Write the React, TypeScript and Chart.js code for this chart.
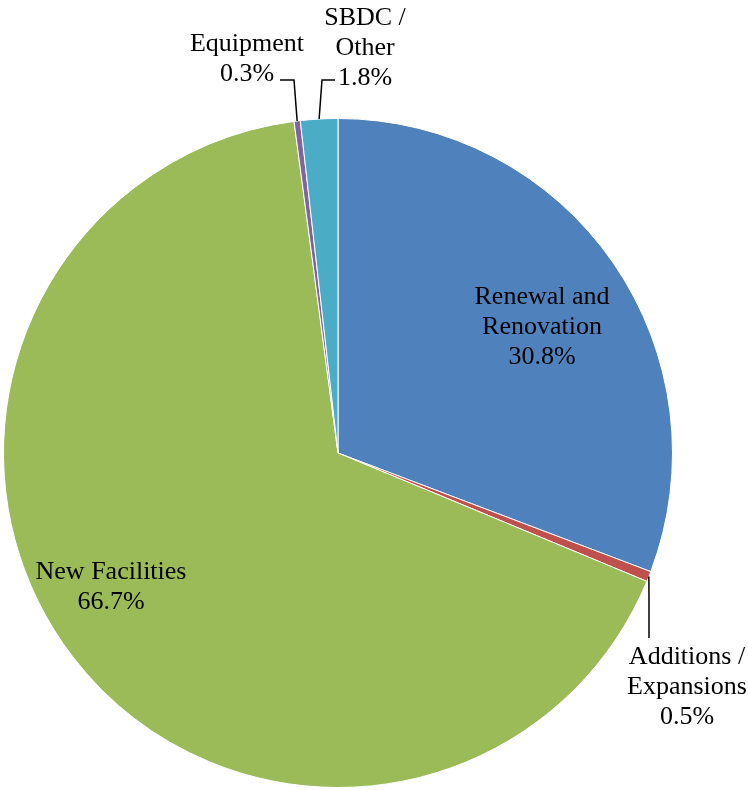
import React, { useEffect, useRef } from "react";
import { Chart, registerables } from "chart.js";

Chart.register(...registerables);

const categories = ["Renewal and Renovation", "Additions / Expansions", "New Facilities", "Equipment", "SBDC / Other"];
const values = [30.8, 0.5, 66.7, 0.3, 1.8];
const labelLines = [
  ["Renewal and", "Renovation", "30.8%"],
  ["Additions /", "Expansions", "0.5%"],
  ["New Facilities", "66.7%"],
  ["Equipment", "0.3%"],
  ["SBDC /", "Other", "1.8%"],
];
const colors = ["#4F81BD", "#C0504D", "#9BBB59", "#8064A2", "#4BACC6"];

const FONT = "26px 'Liberation Serif', 'Times New Roman', Times, serif";
const LINE_H = 30;

const labelLayout = [
  { x: 542, y: 297, leader: null as null | number[][] },
  { x: 687, y: 657, leader: [[649, 638], [649, 600]] },
  { x: 111, y: 572, leader: null },
  { x: 247, y: 44, leader: [[280, 80], [294, 80]] },
  { x: 365, y: 18, leader: [[335, 80], [322, 80]] },
];

const labelPlugin = {
  id: "pieLabels",
  afterDatasetsDraw(chart: any) {
    const ctx = chart.ctx;
    const meta = chart.getDatasetMeta(0);
    ctx.save();
    ctx.font = FONT;
    ctx.fillStyle = "#000";
    ctx.textAlign = "center";
    ctx.textBaseline = "middle";
    labelLines.forEach((lines, i) => {
      const L = labelLayout[i];
      lines.forEach((t, k) => ctx.fillText(t, L.x, L.y + k * LINE_H));
      if (L.leader) {
        const arc = meta.data[i];
        const p = arc.getProps(["x", "y", "startAngle", "endAngle", "outerRadius"], true);
        const mid = (p.startAngle + p.endAngle) / 2;
        const ex = p.x + Math.cos(mid) * p.outerRadius;
        const ey = p.y + Math.sin(mid) * p.outerRadius;
        ctx.strokeStyle = "#000";
        ctx.lineWidth = 1.5;
        ctx.beginPath();
        ctx.moveTo(L.leader[0][0], L.leader[0][1]);
        for (let k = 1; k < L.leader.length; k++) ctx.lineTo(L.leader[k][0], L.leader[k][1]);
        ctx.lineTo(ex, ey);
        ctx.stroke();
      }
    });
    ctx.restore();
  },
};

export default function App() {
  const ref = useRef<HTMLCanvasElement>(null);
  useEffect(() => {
    document.body.style.margin = "0";
    let chart: any = null;
    let cancelled = false;
    const make = () => {
      if (cancelled || !ref.current) return;
      chart = new Chart(ref.current, {
        type: "pie",
        data: {
          labels: categories,
          datasets: [
            {
              data: values,
              backgroundColor: colors,
              borderColor: "#ffffff",
              borderWidth: 1,
            },
          ],
        },
        options: {
          animation: false,
          responsive: false,
          layout: { padding: { left: 3, right: 75, top: 118, bottom: 2 } },
          plugins: { legend: { display: false }, tooltip: { enabled: false } },
        },
        plugins: [labelPlugin],
      });
    };
    if ((document as any).fonts && (document as any).fonts.load) {
      (document as any).fonts.load(FONT).then(make, make);
    } else {
      make();
    }
    return () => {
      cancelled = true;
      if (chart) chart.destroy();
    };
  }, []);
  return (
    <div style={{ width: 748, height: 790, background: "#fff", fontFamily: "'Liberation Serif', serif" }}>
      <canvas ref={ref} width={748} height={790} style={{ display: "block" }} />
    </div>
  );
}
